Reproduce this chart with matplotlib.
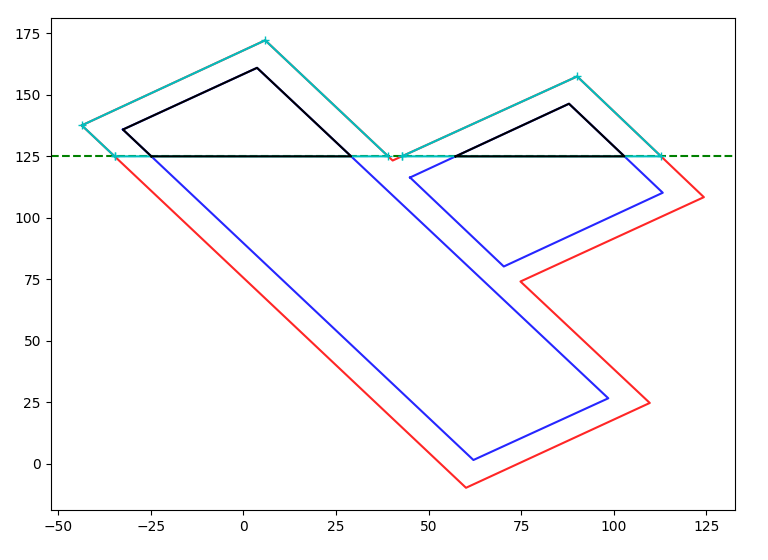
import matplotlib
matplotlib.use("Agg")
import matplotlib.pyplot as plt
import numpy as np

# outer (offset) polygon
outer_x = [-43.6, 5.9, 40.3, 90.1, 124.3, 74.8, 109.7, 60.1]
outer_y = [137.6, 172.2, 123.3, 157.5, 108.4, 74.1, 24.7, -9.8]

# inner polygons
inner1_x = [-32.5, 3.7, 98.5, 62.1]
inner1_y = [135.9, 161.0, 26.6, 1.5]
inner2_x = [45.0, 87.9, 113.2, 70.3]
inner2_y = [116.4, 146.4, 110.2, 80.2]

cut_y = 125


def closed(xs, ys):
    return list(xs) + [xs[0]], list(ys) + [ys[0]]


def clip_above(xs, ys, yc):
    # split a closed polygon into the pieces above yc, each closed along yc
    n = len(xs)
    pieces = []
    cur = None
    start = next(i for i in range(n) if ys[i] < yc)
    for k in range(n):
        i = (start + k) % n
        j = (i + 1) % n
        x0, y0, x1, y1 = xs[i], ys[i], xs[j], ys[j]
        if (y0 < yc) != (y1 < yc):
            t = (yc - y0) / (y1 - y0)
            xi = x0 + t * (x1 - x0)
            if y0 < yc:
                cur = [(xi, yc)]
            else:
                cur.append((xi, yc))
                cur.append(cur[0])
                pieces.append(cur)
                cur = None
        if y1 >= yc and cur is not None:
            cur.append((x1, y1))
    return pieces


fig = plt.figure(figsize=(7.68, 5.6), dpi=100)
ax = fig.add_axes([0.066, 0.089, 0.891, 0.879])

ax.axhline(cut_y, color='g', linestyle='--', zorder=1)

x, y = closed(outer_x, outer_y)
ax.plot(x, y, color='r', alpha=0.85, zorder=2)
for ix, iy in [(inner1_x, inner1_y), (inner2_x, inner2_y)]:
    x, y = closed(ix, iy)
    ax.plot(x, y, color='b', alpha=0.85, zorder=2)

for p in clip_above(outer_x, outer_y, cut_y):
    p = np.array(p)
    ax.plot(p[:, 0], p[:, 1], color='c', marker='+', zorder=3)

for ix, iy in [(inner1_x, inner1_y), (inner2_x, inner2_y)]:
    for p in clip_above(ix, iy, cut_y):
        p = np.array(p)
        ax.plot(p[:, 0], p[:, 1], color='k', zorder=4)

fig.savefig("out.png")
